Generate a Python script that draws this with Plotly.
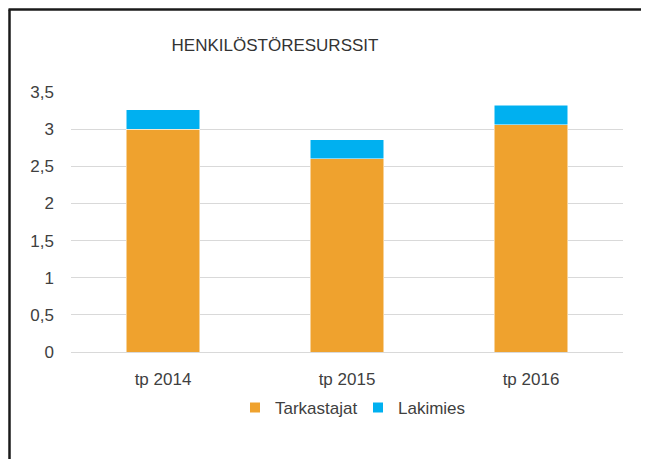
import plotly.graph_objects as go

categories = ["tp 2014", "tp 2015", "tp 2016"]
tarkastajat = [3.0, 2.6, 3.06]
lakimies = [0.26, 0.26, 0.26]
title_text = "HENKILÖSTÖRESURSSIT"
font_family = "Liberation Sans, Arial, sans-serif"
text_color = "#404040"

OFF = 8  # default body margin of the html page
W, H = 649 - OFF, 459 - OFF
# desired plot area in page pixels: x 71..623, y 92..352
L, R, T, B = 71 - OFF, 649 - 623, 92 - OFF, 459 - 352
pw, ph = W - L - R, H - T - B

def px_x(p):  # page pixel -> paper x
    return (p - OFF - L) / pw

def px_y(p):  # page pixel -> paper y
    return (H - B - (p - OFF)) / ph

fig = go.Figure()
fig.add_trace(go.Bar(x=categories, y=tarkastajat, name="Tarkastajat",
                     marker=dict(color="#EFA22E", line=dict(color="#FFFFFF", width=0.5))))
fig.add_trace(go.Bar(x=categories, y=lakimies, name="Lakimies",
                     marker=dict(color="#00B0F0", line=dict(color="#FFFFFF", width=0.5))))

fig.update_layout(
    width=W, height=H,
    margin=dict(l=L, r=R, t=T, b=B, autoexpand=False),
    barmode="stack", bargap=0.6,
    separators=", ",
    paper_bgcolor="white", plot_bgcolor="white",
    font=dict(family=font_family, size=17, color=text_color),
    title=dict(text=title_text, x=px_x(275), xref="paper", xanchor="center",
               y=1 - (45 - OFF) / H, yref="container", yanchor="middle",
               font=dict(family=font_family, size=17, color="#333333")),
    showlegend=True,
    legend=dict(orientation="h", x=px_x(358), xanchor="center", y=px_y(408), yanchor="middle",
                font=dict(family=font_family, size=17, color=text_color),
                itemsizing="constant", traceorder="normal", bgcolor="rgba(0,0,0,0)",
                entrywidth=78, entrywidthmode="pixels"),
    xaxis=dict(showgrid=False, showline=True, linecolor="#d9d9d9", linewidth=1,
               ticks="", ticklabelstandoff=12, tickfont=dict(size=17)),
    yaxis=dict(range=[0, 3.5], dtick=0.5, showgrid=True, gridcolor="#d9d9d9", gridwidth=1,
               zeroline=False, showline=False, ticks="", ticklabelstandoff=16,
               tickfont=dict(size=17)),
    shapes=[
        dict(type="line", xref="paper", yref="paper", x0=px_x(9.5), x1=px_x(9.5),
             y0=px_y(9.5), y1=px_y(470), line=dict(color="#1a1a1a", width=2.5)),
        dict(type="line", xref="paper", yref="paper", x0=px_x(8.5), x1=px_x(660),
             y0=px_y(9.5), y1=px_y(9.5), line=dict(color="#1a1a1a", width=2.5)),
    ],
)

fig.write_html("out.html")
